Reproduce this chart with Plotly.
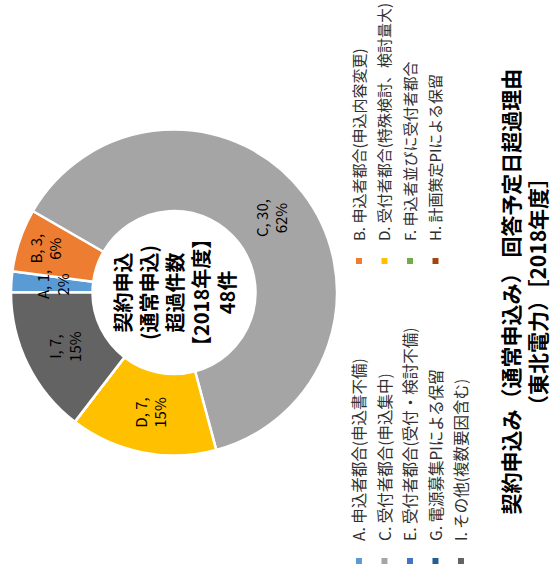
import math
import plotly.graph_objects as go

# ---- data ----
categories = [
    "A. 申込者都合(申込書不備)",
    "B. 申込者都合(申込内容変更)",
    "C. 受付者都合(申込集中)",
    "D. 受付者都合(特殊検討、検討量大)",
    "E. 受付者都合(受付・検討不備)",
    "F. 申込者並びに受付者都合",
    "G. 電源募集PIによる保留",
    "H. 計画策定PIによる保留",
    "I. その他(複数要因含む)",
]
short_labels = ["A", "B", "C", "D", "E", "F", "G", "H", "I"]
counts = [1, 3, 30, 7, 0, 0, 0, 0, 7]
colors = ["#5B9BD5", "#ED7D31", "#A5A5A5", "#FFC000", "#4472C4",
          "#70AD47", "#255E91", "#9E480E", "#636363"]
center_lines = ["契約申込", "(通常申込)", "超過件数", "【2018年度】", "48件"]
title_lines = ["契約申込み（通常申込み） 回答予定日超過理由", "（東北電力）［2018年度］"]

FONT = "Noto Sans CJK JP"
total = sum(counts)
labels_txt = [
    (f"{s}, {v},<br>{round(v / total * 100)}%" if v > 0 else "")
    for s, v in zip(short_labels, counts)
]

W, H = 583, 551  # drawn unrotated; the page turns it 90 deg CCW
CX, CY, R = 290.5, 174.0, 163.0   # pie centre / radius in px
HOLE = 0.5

# slices too thin for Plotly's inside text get their label as an annotation
small = [v > 0 and v / total < 0.04 for v in counts]
pie_text = [("" if sm else t) for sm, t in zip(small, labels_txt)]

fig = go.Figure()
fig.add_trace(go.Pie(
    labels=categories,
    values=counts,
    text=pie_text,
    textinfo="text",
    textposition="inside",
    insidetextorientation="horizontal",
    textfont=dict(family=FONT, size=15, color="#000000"),
    marker=dict(colors=colors, line=dict(color="#FFFFFF", width=2.5)),
    hole=HOLE,
    sort=False,
    direction="clockwise",
    rotation=0,
    showlegend=False,
    hoverinfo="label+value+percent",
    domain=dict(x=[(CX - R) / W, (CX + R) / W],
                y=[1 - (CY + R) / H, 1 - (CY - R) / H]),
))

annotations = []
# centre text of the donut
annotations.append(dict(
    text="<br>".join(center_lines), x=CX / W, y=1 - CY / H,
    xref="paper", yref="paper", xanchor="center", yanchor="middle",
    showarrow=False, align="center",
    font=dict(family=FONT, size=20, color="#000000", weight="bold"),
))
# labels for thin slices, placed at the middle of the ring
cum = 0
for v, sm, t in zip(counts, small, labels_txt):
    if sm:
        theta = 2 * math.pi * (cum + v / 2) / total
        rr = R * (1 + HOLE) / 2
        annotations.append(dict(
            text=t, x=(CX + rr * math.sin(theta)) / W,
            y=1 - (CY - rr * math.cos(theta)) / H,
            xref="paper", yref="paper", xanchor="center", yanchor="middle",
            showarrow=False, align="center",
            font=dict(family=FONT, size=15, color="#000000"),
        ))
    cum += v

# legend entries (two columns: A,C,E,G,I and B,D,F,H)
for i, (name, col) in enumerate(zip(categories, colors)):
    fig.add_trace(go.Scatter(
        x=[None], y=[None], mode="markers", name=name,
        marker=dict(symbol="square", size=6, color=col),
        legend="legend" if i % 2 == 0 else "legend2",
        legendgroup=short_labels[i],
        hoverinfo="skip",
    ))

leg_common = dict(
    orientation="v", yanchor="top", xanchor="left",
    bgcolor="rgba(0,0,0,0)", traceorder="grouped",
    indentation=-15,
    itemclick=False, itemdoubleclick=False,
)

fig.update_layout(
    width=W, height=H,
    margin=dict(l=0, r=0, t=0, b=0, autoexpand=False),
    paper_bgcolor="#FFFFFF", plot_bgcolor="#FFFFFF",
    font=dict(family=FONT),
    xaxis=dict(visible=False), yaxis=dict(visible=False),
    uniformtext=dict(minsize=15, mode="show"),
    title=dict(text="<br>".join(title_lines), x=0.5, xanchor="center",
               xref="paper", yref="container", y=1 - 519 / H, yanchor="middle",
               font=dict(family=FONT, size=21, color="#000000", weight="bold")),
    legend=dict(x=17 / W, y=1 - 342.4 / H, tracegroupgap=2.35,
                font=dict(family=FONT, size=15.5, color="#303030"), **leg_common),
    legend2=dict(x=317 / W, y=1 - 342.75 / H, tracegroupgap=3.0,
                 font=dict(family=FONT, size=15, color="#303030"), **leg_common),
    annotations=annotations,
)

post = """
var gd = document.getElementById('{plot_id}');
document.documentElement.style.overflow = 'hidden';
document.body.style.margin = '0';
document.body.style.overflow = 'hidden';
gd.style.position = 'absolute';
gd.style.left = '0px';
gd.style.top = '0px';
gd.style.transformOrigin = '0 0';
gd.style.transform = 'translate(0px, 583px) rotate(-90deg)';
"""

fig.write_html("out.html", post_script=post,
               config=dict(displayModeBar=False, responsive=False))
